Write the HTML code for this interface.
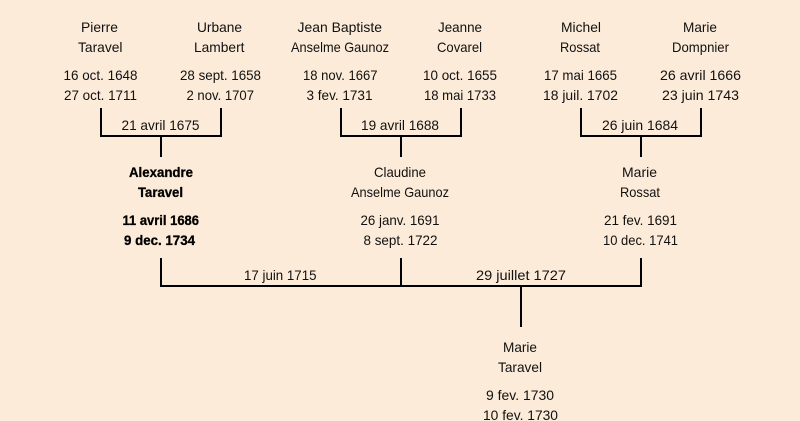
<!DOCTYPE html>
<html>
<head>
<meta charset="utf-8">
<style>
html,body{margin:0;padding:0;background:#fcebd8;width:800px;height:421px;overflow:hidden}
svg{display:block}
text{font-family:"Liberation Sans",sans-serif;font-size:14px;fill:#111}
.b{font-weight:bold;fill:#000;stroke:#000;stroke-width:.3px}
</style>
</head>
<body>
<svg width="800" height="421" viewBox="0 0 800 421" xmlns="http://www.w3.org/2000/svg">
<rect width="800" height="421" fill="#fcebd8"/>
<g fill="#000">
<rect x="100" y="108" width="2" height="29"/><rect x="220" y="108" width="2" height="29"/><rect x="100" y="135" width="122" height="2"/><rect x="160" y="137" width="2" height="20"/>
<rect x="340" y="108" width="2" height="29"/><rect x="460" y="108" width="2" height="29"/><rect x="340" y="135" width="122" height="2"/><rect x="400" y="137" width="2" height="20"/>
<rect x="580" y="108" width="2" height="29"/><rect x="700" y="108" width="2" height="29"/><rect x="580" y="135" width="122" height="2"/><rect x="640" y="137" width="2" height="20"/>
<rect x="160" y="258" width="2" height="29"/><rect x="400" y="258" width="2" height="29"/><rect x="640" y="258" width="2" height="29"/><rect x="160" y="285" width="482" height="2"/><rect x="520" y="287" width="2" height="40"/>
</g>
<g lengthAdjust="spacingAndGlyphs">
<text x="81" y="32" textLength="37" lengthAdjust="spacingAndGlyphs">Pierre</text>
<text x="78" y="52" textLength="44.5" lengthAdjust="spacingAndGlyphs">Taravel</text>
<text x="63.5" y="80" textLength="74" lengthAdjust="spacingAndGlyphs">16 oct. 1648</text>
<text x="64" y="100" textLength="73" lengthAdjust="spacingAndGlyphs">27 oct. 1711</text>
<text x="197" y="32" textLength="45" lengthAdjust="spacingAndGlyphs">Urbane</text>
<text x="194" y="52" textLength="50.5" lengthAdjust="spacingAndGlyphs">Lambert</text>
<text x="180" y="80" textLength="81" lengthAdjust="spacingAndGlyphs">28 sept. 1658</text>
<text x="186.5" y="100" textLength="67.5" lengthAdjust="spacingAndGlyphs">2 nov. 1707</text>
<text x="297.5" y="32" textLength="84.5" lengthAdjust="spacingAndGlyphs">Jean Baptiste</text>
<text x="291" y="52" textLength="98" lengthAdjust="spacingAndGlyphs">Anselme Gaunoz</text>
<text x="303" y="80" textLength="74.5" lengthAdjust="spacingAndGlyphs">18 nov. 1667</text>
<text x="306.5" y="100" textLength="66" lengthAdjust="spacingAndGlyphs">3 fev. 1731</text>
<text x="438" y="32" textLength="44" lengthAdjust="spacingAndGlyphs">Jeanne</text>
<text x="437" y="52" textLength="45" lengthAdjust="spacingAndGlyphs">Covarel</text>
<text x="423" y="80" textLength="74" lengthAdjust="spacingAndGlyphs">10 oct. 1655</text>
<text x="424" y="100" textLength="72" lengthAdjust="spacingAndGlyphs">18 mai 1733</text>
<text x="561" y="32" textLength="40" lengthAdjust="spacingAndGlyphs">Michel</text>
<text x="560" y="52" textLength="40" lengthAdjust="spacingAndGlyphs">Rossat</text>
<text x="544" y="80" textLength="73" lengthAdjust="spacingAndGlyphs">17 mai 1665</text>
<text x="543" y="100" textLength="75" lengthAdjust="spacingAndGlyphs">18 juil. 1702</text>
<text x="683" y="32" textLength="34" lengthAdjust="spacingAndGlyphs">Marie</text>
<text x="672" y="52" textLength="57" lengthAdjust="spacingAndGlyphs">Dompnier</text>
<text x="660" y="80" textLength="81" lengthAdjust="spacingAndGlyphs">26 avril 1666</text>
<text x="662" y="100" textLength="77" lengthAdjust="spacingAndGlyphs">23 juin 1743</text>
<text x="121.5" y="130" textLength="78" lengthAdjust="spacingAndGlyphs">21 avril 1675</text>
<text x="361" y="130" textLength="78" lengthAdjust="spacingAndGlyphs">19 avril 1688</text>
<text x="602" y="130" textLength="76" lengthAdjust="spacingAndGlyphs">26 juin 1684</text>
<text class="b" x="129" y="177" textLength="64" lengthAdjust="spacingAndGlyphs">Alexandre</text>
<text class="b" x="138" y="197" textLength="45" lengthAdjust="spacingAndGlyphs">Taravel</text>
<text class="b" x="122.5" y="225" textLength="76.5" lengthAdjust="spacingAndGlyphs">11 avril 1686</text>
<text class="b" x="124" y="245" textLength="71" lengthAdjust="spacingAndGlyphs">9 dec. 1734</text>
<text x="374" y="177" textLength="52" lengthAdjust="spacingAndGlyphs">Claudine</text>
<text x="351" y="197" textLength="98" lengthAdjust="spacingAndGlyphs">Anselme Gaunoz</text>
<text x="360.5" y="225" textLength="79" lengthAdjust="spacingAndGlyphs">26 janv. 1691</text>
<text x="363.5" y="245" textLength="74" lengthAdjust="spacingAndGlyphs">8 sept. 1722</text>
<text x="622" y="177" textLength="35" lengthAdjust="spacingAndGlyphs">Marie</text>
<text x="620" y="197" textLength="40" lengthAdjust="spacingAndGlyphs">Rossat</text>
<text x="604" y="225" textLength="73" lengthAdjust="spacingAndGlyphs">21 fev. 1691</text>
<text x="603" y="245" textLength="75" lengthAdjust="spacingAndGlyphs">10 dec. 1741</text>
<text x="244" y="280" textLength="72.5" lengthAdjust="spacingAndGlyphs">17 juin 1715</text>
<text x="476" y="280" textLength="90" lengthAdjust="spacingAndGlyphs">29 juillet 1727</text>
<text x="503" y="352" textLength="34" lengthAdjust="spacingAndGlyphs">Marie</text>
<text x="498" y="372" textLength="44" lengthAdjust="spacingAndGlyphs">Taravel</text>
<text x="486" y="400" textLength="68" lengthAdjust="spacingAndGlyphs">9 fev. 1730</text>
<text x="483" y="420" textLength="75" lengthAdjust="spacingAndGlyphs">10 fev. 1730</text>
</g>
</svg>
</body>
</html>
